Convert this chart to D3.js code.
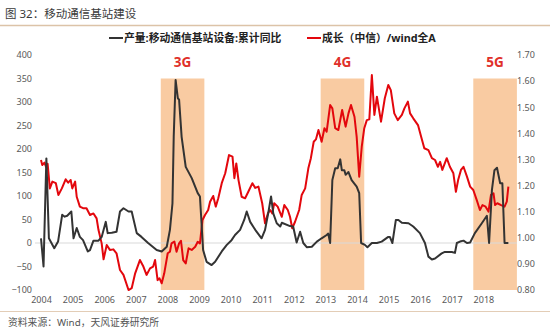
<!DOCTYPE html>
<html><head><meta charset="utf-8">
<script src="https://cdn.jsdelivr.net/npm/d3@7"></script>
<style>
html,body{margin:0;padding:0;background:#fff;}
svg{display:block;font-family:"Noto Sans","Noto Sans CJK SC",sans-serif;}
</style></head>
<body><svg id="c" width="550" height="335"></svg>
<script>
// ---- data (dates as decimal years) ----
const yearTicks = [2004,2005,2006,2007,2008,2009,2010,2011,2012,2013,2014,2015,2016,2017,2018];
const leftTicks = [-100,-50,0,50,100,150,200,250,300,350,400];
const rightTicks = [0.8,0.9,1.0,1.1,1.2,1.3,1.4,1.5,1.6,1.7];
const bandNames = ["3G","4G","5G"];
const bandStarts = [2007.79, 2012.85, 2017.68];
const bandEnds = [2009.17, 2014.23, 2019.06];
const bandTop = 350;

const blackDates = [2004.00,2004.08,2004.17,2004.25,2004.42,2004.54,2004.67,2004.75,2004.83,2004.96,
2005.03,2005.13,2005.23,2005.33,2005.48,2005.55,2005.66,2005.82,2005.92,2006.05,2006.11,2006.24,2006.39,
2006.50,2006.61,2006.77,2006.87,2007.03,2007.18,2007.39,2007.66,2007.82,2007.98,2008.08,2008.16,2008.20,
2008.26,2008.33,2008.37,2008.45,2008.58,2008.77,2008.96,2009.03,2009.08,2009.13,2009.24,2009.40,2009.51,
2009.72,2009.88,2010.03,2010.14,2010.30,2010.43,2010.51,2010.62,2010.78,2010.98,2011.09,2011.19,2011.28,
2011.35,2011.46,2011.57,2011.62,2011.88,2011.98,2012.09,2012.20,2012.30,2012.41,2012.57,2012.73,2012.88,
2013.04,2013.09,2013.15,2013.22,2013.31,2013.39,2013.47,2013.52,2013.60,2013.64,2013.73,2013.83,2013.99,
2014.07,2014.13,2014.25,2014.33,2014.47,2014.63,2014.78,2014.99,2015.04,2015.12,2015.23,2015.31,2015.42,
2015.63,2015.78,2015.99,2016.15,2016.26,2016.37,2016.47,2016.68,2016.78,2017.00,2017.10,2017.16,2017.26,
2017.37,2017.48,2017.58,2017.73,2017.95,2018.11,2018.18,2018.27,2018.35,2018.43,2018.53,2018.60,2018.67,2018.79];
const blackValues = [10,-50,180,10,-11,3,60,56,58,67,
10,32,13,6,-18,-15,5,5,13,45,21,22,24,
67,74,67,67,21,13,0,-15,-18,-8,28,84,226,
347,308,305,226,162,138,106,99,42,-15,-40,-47,-40,
-18,-4,6,17,28,49,67,45,28,10,28,63,99,
63,42,35,43,36,35,1,24,0,-9,-8,3,10,
17,20,0,134,159,159,178,155,155,145,151,134,120,
106,0,-4,-9,0,0,3,13,13,0,49,49,43,
42,35,21,0,-29,-35,-33,-22,-19,-19,-21,0,3,
5,0,1,21,42,58,0,113,155,160,127,127,0,0];

const redDates = [2004.00,2004.04,2004.11,2004.16,2004.21,2004.28,2004.36,2004.47,2004.55,2004.66,2004.78,2004.86,2004.94,2004.99,
2005.08,2005.13,2005.23,2005.33,2005.44,2005.55,2005.66,2005.76,2005.82,2005.92,2005.98,2006.08,2006.18,2006.29,2006.39,
2006.50,2006.61,2006.77,2006.87,2006.98,2007.13,2007.24,2007.34,2007.45,2007.55,2007.61,2007.69,2007.75,2007.82,2007.90,
2008.01,2008.08,2008.13,2008.22,2008.29,2008.37,2008.43,2008.50,2008.58,2008.67,2008.77,2008.88,2008.96,2009.03,2009.11,
2009.19,2009.29,2009.35,2009.45,2009.53,2009.61,2009.72,2009.83,2009.95,2010.06,2010.12,2010.18,2010.25,2010.35,2010.46,
2010.56,2010.69,2010.78,2010.88,2011.00,2011.09,2011.18,2011.25,2011.32,2011.38,2011.49,2011.62,2011.70,2011.81,2011.88,
2011.95,2012.04,2012.17,2012.25,2012.36,2012.46,2012.54,2012.63,2012.70,2012.78,2012.88,2012.97,2013.04,2013.15,2013.22,
2013.31,2013.41,2013.53,2013.64,2013.73,2013.81,2013.92,2013.99,2014.07,2014.15,2014.23,2014.31,2014.39,2014.47,2014.55,
2014.63,2014.76,2014.88,2014.99,2015.07,2015.18,2015.29,2015.42,2015.50,2015.61,2015.68,2015.78,2015.93,2016.03,2016.13,
2016.26,2016.37,2016.47,2016.56,2016.63,2016.70,2016.84,2016.94,2017.05,2017.13,2017.20,2017.29,2017.37,2017.48,2017.58,
2017.68,2017.79,2017.89,2017.97,2018.07,2018.16,2018.24,2018.32,2018.37,2018.44,2018.56,2018.67,2018.74,2018.79];
const redValues = [1.297,1.278,1.287,1.270,1.282,1.188,1.214,1.208,1.163,1.188,1.223,1.210,1.220,1.188,
1.214,1.156,1.118,1.112,1.112,1.086,1.092,1.073,1.028,0.977,0.916,0.971,0.952,0.954,0.939,
0.875,0.856,0.798,0.805,0.862,0.913,0.888,0.856,0.881,0.888,0.913,0.836,0.843,0.824,0.862,
0.939,0.945,0.977,0.984,0.945,0.977,0.987,0.913,0.900,0.958,0.952,0.964,0.983,0.977,1.067,
1.086,1.105,1.137,1.159,1.118,1.150,1.208,1.246,1.316,1.310,1.227,1.284,1.220,1.156,1.150,
1.175,1.208,1.190,1.195,1.131,1.054,1.092,1.105,1.092,1.131,1.118,1.079,1.124,1.105,1.079,
1.035,1.060,1.105,1.163,1.188,1.265,1.304,1.367,1.376,1.412,1.367,1.419,1.406,1.508,1.495,
1.419,1.412,1.489,1.425,1.476,1.508,1.463,1.386,1.233,1.348,1.419,1.450,1.453,1.623,1.470,
1.540,1.444,1.534,1.585,1.565,1.476,1.450,1.470,1.495,1.521,1.476,1.457,1.431,1.386,1.342,
1.335,1.304,1.297,1.271,1.290,1.259,1.304,1.271,1.246,1.175,1.220,1.259,1.271,1.233,1.195,
1.182,1.143,1.105,1.124,1.118,1.099,1.163,1.169,1.124,1.131,1.124,1.118,1.137,1.195];

// ---- layout ----
const svg = d3.select("#c");
const x = d3.scaleLinear().domain([2004, 2019]).range([41, 515]);
const yL = d3.scaleLinear().domain([-100, 400]).range([290, 55]);
const yR = d3.scaleLinear().domain([0.8, 1.7]).range([289.5, 55]);

// title + separators
svg.append("text").attr("x",5).attr("y",18).attr("font-size",11.5).attr("fill","#3a3a3a")
  .text("图 32：移动通信基站建设");
svg.append("line").attr("x1",0).attr("x2",550).attr("y1",25.5).attr("y2",25.5)
  .attr("stroke","#DCC3A8").attr("stroke-width",1.5);
svg.append("line").attr("x1",0).attr("x2",550).attr("y1",311.5).attr("y2",311.5)
  .attr("stroke","#E3CDB6").attr("stroke-width",1);
svg.append("text").attr("x",8).attr("y",326).attr("font-size",9.8).attr("fill","#555")
  .text("资料来源：Wind，天风证券研究所");

// bands
const bands = bandNames.map((n,i)=>({n, s:bandStarts[i], e:bandEnds[i]}));
svg.selectAll("rect.band").data(bands).enter().append("rect")
  .attr("x",d=>x(d.s)).attr("width",d=>Math.min(x(d.e),517)-x(d.s))
  .attr("y",yL(bandTop)).attr("height",yL(-100)-yL(bandTop))
  .attr("fill","#F9CBA2");
svg.selectAll("text.band").data(bands).enter().append("text")
  .attr("x",d=>(x(d.s)+Math.min(x(d.e),517))/2).attr("y",67)
  .attr("text-anchor","middle").attr("font-size",13.5).attr("font-weight","bold")
  .attr("fill","#E0302A").text(d=>d.n);

// zero line
svg.append("line").attr("x1",35).attr("x2",517).attr("y1",yL(0)).attr("y2",yL(0))
  .attr("stroke","#D9D9D9").attr("stroke-width",1);

// left axis
const axL = svg.append("g").attr("transform","translate(33,0)")
  .call(d3.axisLeft(yL).tickValues(leftTicks).tickSize(0).tickPadding(1).tickFormat(d3.format("d")));
axL.select(".domain").remove();
axL.selectAll("text").attr("font-size",9).attr("fill","#595959").attr("font-family","Noto Sans");

// right axis
const axR = svg.append("g").attr("transform","translate(516,0)")
  .call(d3.axisRight(yR).tickValues(rightTicks).tickSize(0).tickPadding(1).tickFormat(d3.format(".2f")));
axR.select(".domain").remove();
axR.selectAll("text").attr("font-size",9).attr("fill","#595959").attr("font-family","Noto Sans");

// x axis
const axX = svg.append("g").attr("transform","translate(0,292)")
  .call(d3.axisBottom(x).tickValues(yearTicks).tickSize(0).tickPadding(5).tickFormat(d3.format("d")));
axX.select(".domain").remove();
axX.selectAll("text").attr("font-size",9).attr("fill","#595959").attr("font-family","Noto Sans");

// lines
const redData = redDates.map((d,i)=>[d, redValues[i]]);
const blackData = blackDates.map((d,i)=>[d, blackValues[i]]);
svg.append("path").datum(redData)
  .attr("d", d3.line().x(d=>x(d[0])).y(d=>yR(d[1])))
  .attr("fill","none").attr("stroke","#E3070D").attr("stroke-width",2).attr("stroke-linejoin","round");
svg.append("path").datum(blackData)
  .attr("d", d3.line().x(d=>x(d[0])).y(d=>yL(d[1])))
  .attr("fill","none").attr("stroke","#333333").attr("stroke-width",2).attr("stroke-linejoin","round");

// legend
const legend = [
  {label:"产量:移动通信基站设备:累计同比", color:"#333333", x:109},
  {label:"成长（中信）/wind全A", color:"#E3070D", x:307}
];
const lg = svg.selectAll("g.lg").data(legend).enter().append("g");
lg.append("line").attr("x1",d=>d.x).attr("x2",d=>d.x+14).attr("y1",38).attr("y2",38)
  .attr("stroke",d=>d.color).attr("stroke-width",2);
lg.append("text").attr("x",d=>d.x+15).attr("y",42).attr("font-size",10.8).attr("font-weight","bold")
  .attr("fill","#222").text(d=>d.label);
</script></body></html>
